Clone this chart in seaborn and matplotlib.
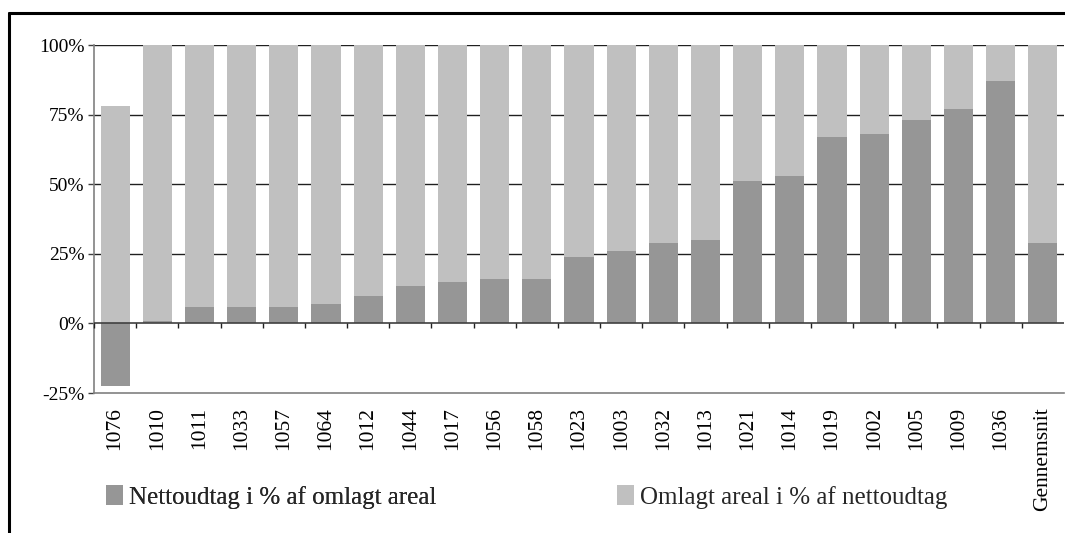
import matplotlib
matplotlib.use("Agg")
import matplotlib.pyplot as plt
from matplotlib.lines import Line2D
import numpy as np
import pandas as pd
import seaborn as sns

# Categories (farm ids) and the average column
kategorier = ["1076", "1010", "1011", "1033", "1057", "1064", "1012", "1044",
              "1017", "1056", "1058", "1023", "1003", "1032", "1013", "1021",
              "1014", "1019", "1002", "1005", "1009", "1036", "Gennemsnit"]

# Net removal as % of converted area
nettoudtag = [-22.5, 1, 6, 6, 6, 7, 10, 13.5, 15, 16, 16, 24, 26, 29, 30,
              51, 53, 67, 68, 73, 77, 87, 29]

# Converted area as % of net removal
omlagt = [78, 99, 94, 94, 94, 93, 90, 86.5, 85, 84, 84, 76, 74, 71, 70,
          49, 47, 33, 32, 27, 23, 13, 71]

y_ticks = [-25, 0, 25, 50, 75, 100]
y_labels = ["-25%", "0%", "25%", "50%", "75%", "100%"]

navn_netto = "Nettoudtag i % af omlagt areal"
navn_omlagt = "Omlagt areal i % af nettoudtag"

MORK = "#969696"
LYS = "#c0c0c0"

sns.set_theme(style="white")
plt.rcParams["font.family"] = ["Liberation Serif", "DejaVu Serif"]

df = pd.DataFrame({"kategori": kategorier,
                   "netto": nettoudtag,
                   "omlagt": omlagt})
# light segment is stacked on top of the positive dark part
df["top"] = df["omlagt"] + df["netto"].clip(lower=0)

W, H = 1065, 533
fig = plt.figure(figsize=(W / 100, H / 100), dpi=100)
ax = fig.add_axes([94 / W, 1 - 393 / H, (1064 - 94) / W, (393 - 45) / H])

sns.barplot(data=df, x="kategori", y="top", order=kategorier, color=LYS,
            saturation=1, width=0.69, linewidth=0, ax=ax, label=navn_omlagt,
            zorder=3)
sns.barplot(data=df, x="kategori", y="netto", order=kategorier, color=MORK,
            saturation=1, width=0.69, linewidth=0, ax=ax, label=navn_netto,
            zorder=4)

# legend entries are placed separately below the chart
handles, labels = ax.get_legend_handles_labels()
hmap = dict(zip(labels, handles))
if ax.get_legend() is not None:
    ax.get_legend().remove()

n = len(kategorier)
ax.set_xlim(-0.5, n - 0.5)
ax.set_ylim(-25, 100)

# horizontal gridlines behind the bars
for v in [25, 50, 75, 100]:
    ax.axhline(v, color="#202020", lw=1.0, zorder=1)
# category axis at zero with tick marks between categories
ax.axhline(0, color="#404040", lw=1.2, zorder=5)
tick_len = 5 / ((393 - 45) / 125)
ax.vlines(np.arange(n) - 0.5, -tick_len, 0, color="#202020", lw=1.0,
          zorder=5, clip_on=False)

for side in ["top", "right"]:
    ax.spines[side].set_visible(False)
ax.spines["left"].set_color("#808080")
ax.spines["left"].set_linewidth(1.2)
ax.spines["bottom"].set_color("#808080")
ax.spines["bottom"].set_linewidth(1.2)

ax.set_yticks(y_ticks)
ax.set_yticklabels(y_labels, fontsize=14, color="black")
ax.tick_params(axis="y", direction="out", length=4, width=1,
               color="#404040", pad=3, left=True)

ax.set_xticks(range(n))
ax.set_xticklabels(kategorier, rotation=90, fontsize=15.5, color="black")
ax.tick_params(axis="x", length=0, pad=10)
ax.set_xlabel("")
ax.set_ylabel("")
ax.grid(False)

leg_kw = dict(frameon=False, loc="center left", fontsize=18,
              handlelength=0.68, handleheight=0.8, handletextpad=0.25,
              borderpad=0, borderaxespad=0)
leg1 = fig.legend([hmap[navn_netto]], [navn_netto],
                  bbox_to_anchor=(106 / W, 1 - 497 / H), **leg_kw)
fig.add_artist(leg1)
fig.legend([hmap[navn_omlagt]], [navn_omlagt],
           bbox_to_anchor=(617 / W, 1 - 497 / H), **leg_kw)

# outer frame (top and left edges)
fig.add_artist(Line2D([9 / W, 1.0], [1 - 13 / H, 1 - 13 / H],
                      color="black", lw=2.2, transform=fig.transFigure))
fig.add_artist(Line2D([9 / W, 9 / W], [0.0, 1 - 13 / H],
                      color="black", lw=2.2, transform=fig.transFigure))

fig.savefig("out.png", dpi=100, facecolor="white")
